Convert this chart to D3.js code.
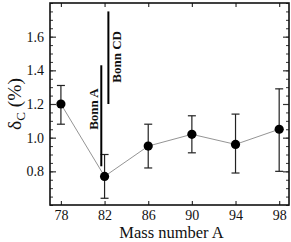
<!DOCTYPE html>
<html>
<head>
<meta charset="utf-8">
<script src="https://cdn.jsdelivr.net/npm/d3@7"></script>
<style>
	body { margin: 0; background: #fff; }
	svg text { font-family: "Liberation Serif", "DejaVu Serif", serif !important; fill: #111; }
</style>
</head>
<body>
<div id="chart"></div>
<script>
// data
const massNumbers = [78, 82, 86, 90, 94, 98];
const deltaC = [1.20, 0.77, 0.95, 1.02, 0.96, 1.05];
const errLow = [1.08, 0.64, 0.82, 0.91, 0.79, 0.80];
const errHigh = [1.31, 0.90, 1.08, 1.13, 1.14, 1.29];
const xTicks = [78, 82, 86, 90, 94, 98];
const yTicks = [0.8, 1.0, 1.2, 1.4, 1.6];
// experimental ranges
const bonnRanges = [
	{ label: "Bonn A", x: 81.7, y0: 0.83, y1: 1.43, labelY: 1.17 },
	{ label: "Bonn CD", x: 82.35, y0: 1.20, y1: 1.75, labelY: 1.48 }
];

const FONT = "'Liberation Serif', 'DejaVu Serif', serif";
const W = 291, H = 242;
const margin = { top: 3, right: 2, bottom: 37, left: 50 };
const width = W - margin.left - margin.right;
const height = H - margin.top - margin.bottom;

const svg = d3.select("#chart").append("svg")
	.attr("width", W)
	.attr("height", H)
	.attr("font-family", FONT);
const g = svg.append("g")
	.attr("transform", `translate(${margin.left},${margin.top})`);

const x = d3.scaleLinear().domain([77, 98.9]).range([0, width]);
const y = d3.scaleLinear().domain([0.6, 1.8]).range([height, 0]);

// minor ticks every 0.05 on y
const yMinor = d3.range(0.6, 1.8001, 0.05).map(v => +v.toFixed(2));

// left axis
g.append("g")
	.call(d3.axisLeft(y).tickValues(yMinor).tickSize(-3).tickFormat(""))
	.call(a => a.select(".domain").remove())
	.selectAll("line").attr("stroke", "#333");
g.append("g")
	.call(d3.axisLeft(y).tickValues(yTicks).tickSize(-6).tickPadding(6).tickFormat(d3.format(".1f")))
	.attr("font-family", FONT)
	.call(a => a.select(".domain").remove())
	.call(a => a.selectAll("text").attr("font-size", 14))
	.selectAll("line").attr("stroke", "#333").attr("stroke-width", 1.2);

// right axis (mirror)
g.append("g")
	.attr("transform", `translate(${width},0)`)
	.call(d3.axisRight(y).tickValues(yMinor).tickSize(-3).tickFormat(""))
	.call(a => a.select(".domain").remove())
	.selectAll("line").attr("stroke", "#333");
g.append("g")
	.attr("transform", `translate(${width},0)`)
	.call(d3.axisRight(y).tickValues(yTicks).tickSize(-6).tickFormat(""))
	.call(a => a.select(".domain").remove())
	.selectAll("line").attr("stroke", "#333").attr("stroke-width", 1.2);

// bottom axis
g.append("g")
	.attr("transform", `translate(0,${height})`)
	.call(d3.axisBottom(x).tickValues(xTicks).tickSize(-4).tickPadding(5).tickFormat(d3.format("d")))
	.attr("font-family", FONT)
	.call(a => a.select(".domain").remove())
	.call(a => a.selectAll("text").attr("font-size", 14))
	.selectAll("line").attr("stroke", "#333").attr("stroke-width", 1.2);

// top axis (mirror)
g.append("g")
	.call(d3.axisTop(x).tickValues(xTicks).tickSize(-4).tickFormat(""))
	.call(a => a.select(".domain").remove())
	.selectAll("line").attr("stroke", "#333").attr("stroke-width", 1.2);

// frame
g.append("rect")
	.attr("width", width).attr("height", height)
	.attr("fill", "none").attr("stroke", "#111").attr("stroke-width", 1.6);

const pts = massNumbers.map((m, i) => ({ m, v: deltaC[i], lo: errLow[i], hi: errHigh[i] }));

// connecting line
g.append("path")
	.datum(pts)
	.attr("fill", "none")
	.attr("stroke", "#888")
	.attr("stroke-width", 0.9)
	.attr("d", d3.line().x(d => x(d.m)).y(d => y(d.v)));

// error bars
const eb = g.append("g").attr("stroke", "#222").attr("stroke-width", 1.2);
eb.selectAll("line.v").data(pts).join("line")
	.attr("x1", d => x(d.m)).attr("x2", d => x(d.m))
	.attr("y1", d => y(d.lo)).attr("y2", d => y(d.hi));
eb.selectAll("line.lo").data(pts).join("line")
	.attr("x1", d => x(d.m) - 4).attr("x2", d => x(d.m) + 4)
	.attr("y1", d => y(d.lo)).attr("y2", d => y(d.lo));
eb.selectAll("line.hi").data(pts).join("line")
	.attr("x1", d => x(d.m) - 4).attr("x2", d => x(d.m) + 4)
	.attr("y1", d => y(d.hi)).attr("y2", d => y(d.hi));

// markers
g.selectAll("circle").data(pts).join("circle")
	.attr("cx", d => x(d.m)).attr("cy", d => y(d.v))
	.attr("r", 4.6).attr("fill", "#000");

// Bonn ranges
g.selectAll("line.bonn").data(bonnRanges).join("line")
	.attr("class", "bonn")
	.attr("x1", d => x(d.x)).attr("x2", d => x(d.x))
	.attr("y1", d => y(d.y0)).attr("y2", d => y(d.y1))
	.attr("stroke", "#000").attr("stroke-width", 2);

g.selectAll("text.bonn").data(bonnRanges).join("text")
	.attr("class", "bonn")
	.attr("transform", (d, i) => i === 0
		? `translate(${x(d.x) - 3},${y(d.labelY)}) rotate(-90)`
		: `translate(${x(d.x) + 13},${y(d.labelY)}) rotate(-90)`)
	.attr("text-anchor", "middle")
	.attr("font-size", 13)
	.attr("font-weight", "bold")
	.text(d => d.label);

// axis titles
svg.append("text")
	.attr("x", margin.left + width / 2 + 2)
	.attr("y", 238)
	.attr("text-anchor", "middle")
	.attr("font-size", 16.5)
	.text("Mass number A");

const yl = svg.append("text")
	.attr("transform", `translate(21,${margin.top + y(1.2)}) rotate(-90)`)
	.attr("text-anchor", "middle")
	.attr("font-size", 19.5);
yl.append("tspan").text("δ");
yl.append("tspan").attr("font-size", 13).attr("dy", 4).text("C");
yl.append("tspan").attr("dy", -4).text(" (%)");
</script>
</body>
</html>
